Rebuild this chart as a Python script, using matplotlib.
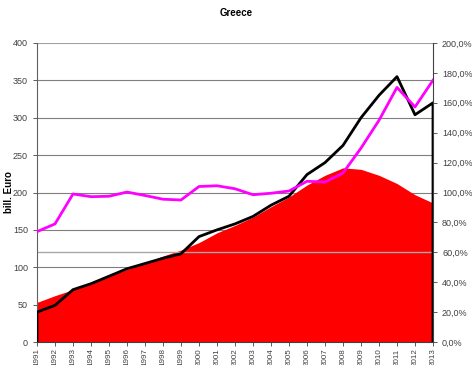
import matplotlib
matplotlib.use("Agg")
import matplotlib.pyplot as plt
import numpy as np

years = list(range(1991, 2014))
gdp = [53, 62, 70, 79, 88, 97, 106, 115, 123, 133, 146, 156, 167, 181, 194, 210, 223, 233, 231, 223, 212, 197, 186]
debt = [40, 49, 70, 78, 88, 98, 105, 112, 118, 141, 150, 158, 168, 183, 195, 224, 240, 263, 300, 330, 355, 304, 320]
ratio = [73.8, 79, 99, 97.2, 97.5, 100.3, 98, 95.5, 95, 104, 104.5, 102.5, 98.5, 99.5, 101, 107.5, 107, 113, 129.7, 148.3, 170.3, 157.2, 175.1]
left_ticks = [0, 50, 100, 150, 200, 250, 300, 350, 400]
right_ticks = [0, 20, 40, 60, 80, 100, 120, 140, 160, 180, 200]

plt.rcParams['font.family'] = ['Liberation Sans', 'DejaVu Sans']
fig = plt.figure(figsize=(4.72, 3.65), dpi=100)
ax = fig.add_axes([37/472, 23/365, 396/472, 299/365])
ax2 = ax.twinx()

ax.set_xlim(years[0], years[-1])
ax.set_ylim(0, 400)
ax2.set_ylim(0, 200)

for v in left_ticks[1:]:
    ax.axhline(v, color='#7f7f7f' if v < 400 else '#a0a0a0', lw=0.8, zorder=0)
ax.fill_between(years, gdp, 0, color='#ff0000', lw=0, zorder=1)
ax.axhline(120, color='#a8a8a8', lw=1.0, zorder=2)
ax.plot([years[0]] + years + [years[-1]], [0] + debt + [0], color='black', lw=2, zorder=3)
ax2.plot(years, ratio, color='#ff00ff', lw=2, zorder=4)
ax2.set_zorder(ax.get_zorder() + 1)
ax2.patch.set_visible(False)

ax.set_yticks(left_ticks)
ax.set_xticks(years)
ax.set_xticklabels([str(y) for y in years], rotation=90)
ax2.set_yticks(right_ticks)
ax2.set_yticklabels([f"{t:.1f}%".replace('.', ',') for t in right_ticks])

for a in (ax, ax2):
    a.tick_params(labelsize=6.5, colors='#404040', length=3, width=0.6)
    for s in a.spines.values():
        s.set_visible(False)
ax.spines['left'].set_visible(True)
ax.spines['left'].set_color('#606060')
ax.spines['bottom'].set_visible(True)
ax.spines['bottom'].set_color('#404040')
ax2.spines['right'].set_visible(True)
ax2.spines['right'].set_color('#404040')
ax.tick_params(axis='x', labelsize=5.8, pad=1.5)

ax.set_ylabel('bill. Euro', fontsize=7, fontweight='bold')
ax.yaxis.set_label_coords(-0.058, 0.5)
fig.text(0.5, 0.965, 'Greece', ha='center', va='center', fontsize=7, fontweight='bold')

fig.savefig('out.png', dpi=100)
